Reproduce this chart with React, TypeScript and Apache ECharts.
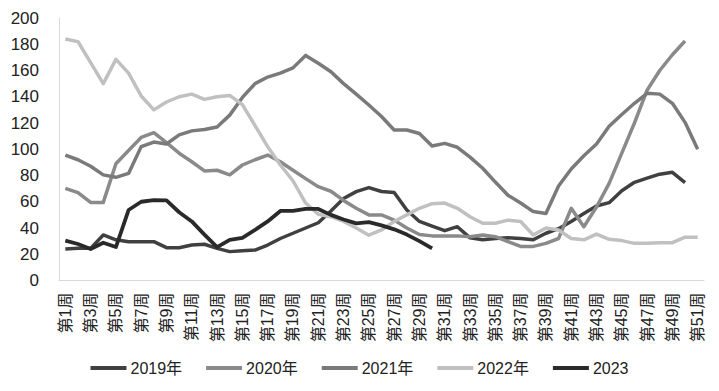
import React, { useEffect, useRef } from "react";
import * as echarts from "echarts";

const categories: string[] = Array.from({ length: 51 }, (_, i) => `第${i + 1}周`);

const yAxisMin = 0;
const yAxisMax = 200;
const yAxisInterval = 20;

const seriesNames = ["2019年", "2020年", "2021年", "2022年", "2023"];

const data2019: (number | null)[] = [
  24, 24.5, 24.5, 34.7, 31, 29.6, 29.6, 29.6, 25, 25, 27, 27.6, 24.5, 22, 22.7, 23.2, 27, 32, 36, 40,
  44, 53, 62.5, 67.7, 70.8, 67.8, 67, 53.7, 45, 41.5, 38, 41, 32.5, 31, 32, 32.5, 32, 31, 36, 39.5,
  45, 51, 56.8, 59.3, 68.4, 74.8, 78, 81, 82.4, 74.5, null,
];

const data2020: (number | null)[] = [
  70.2, 67, 59.5, 59.5, 89, 99, 109, 112.6, 105, 97, 90.5, 83.5, 84, 80.5, 88, 92, 95.6, 90.5, 84, 77.6,
  71.5, 68, 61, 55, 50, 50, 46, 40, 35, 34, 34, 34, 33.4, 34.7, 33.4, 29.6, 26, 26, 28.3, 32,
  55, 41, 56, 74, 97, 120, 145, 160, 172, 182.5, null,
];

const data2021: (number | null)[] = [
  95.6, 92, 87, 80.5, 78.6, 81.6, 102, 105.5, 104, 111, 114, 115, 117, 126, 139.5, 150, 155, 158, 162, 171.5,
  165.5, 159, 150, 142, 133.7, 125, 114.7, 114.7, 112, 102.5, 104.5, 101.5, 94, 85.5, 75, 65, 59, 52.5, 51, 72,
  85, 95, 104, 117.5, 126.5, 135, 142.6, 142, 135, 120.5, 100,
];

const data2022: (number | null)[] = [
  184, 182, 166, 150, 168.5, 158, 140.6, 130, 136, 140, 142, 138, 140, 141, 134, 118, 102, 88, 76, 59,
  50.5, 48.6, 45, 40, 34.5, 38.5, 45, 50, 55, 58.5, 59, 55, 48.6, 43.6, 43.6, 46, 45, 34.7, 40, 38.5,
  32, 31, 35.4, 31.4, 30.4, 28.3, 28.3, 28.8, 28.8, 33, 33,
];

const data2023: (number | null)[] = [
  30.4, 27.8, 24, 28.8, 25.5, 53.7, 60, 61.3, 61, 52, 45, 35, 25.5, 31, 32.5, 38.5, 45, 53, 53, 54.5,
  54.5, 50, 46.5, 43.5, 44.5, 42, 39, 35, 30, 24.5,
  null, null, null, null, null, null, null, null, null, null, null, null, null, null, null, null, null, null, null, null, null,
];

const seriesData = [data2019, data2020, data2021, data2022, data2023];
const seriesColors = ["#404040", "#8a8a8a", "#7a7a7a", "#c0c0c0", "#2a2a2a"];
const seriesWidths = [3.5, 3.5, 3.5, 3.5, 3.8];

const FONT = "'Liberation Sans', 'Noto Sans CJK SC', Arial, sans-serif";

export default function App() {
  const ref = useRef<HTMLDivElement | null>(null);

  useEffect(() => {
    if (!ref.current) return;
    const chart = echarts.init(ref.current, undefined, { renderer: "svg" });
    chart.setOption({
      animation: false,
      backgroundColor: "#ffffff",
      textStyle: { fontFamily: FONT },
      grid: { left: 59, right: 15, top: 18, bottom: 110.5, containLabel: false },
      legend: {
        bottom: 10,
        left: "center",
        icon: "rect",
        itemWidth: 36,
        itemHeight: 4,
        itemGap: 24,
        textStyle: { fontSize: 16, color: "#222", fontFamily: FONT, padding: [0, 0, 0, -1] },
        data: seriesNames,
      },
      xAxis: {
        type: "category",
        data: categories,
        boundaryGap: true,
        axisLine: { show: true, lineStyle: { color: "#d9d9d9", width: 1 } },
        axisTick: { show: false },
        axisLabel: {
          interval: 1,
          rotate: 90,
          margin: 12,
          fontSize: 16,
          color: "#222",
          fontFamily: FONT,
        },
        splitLine: { show: false },
      },
      yAxis: {
        type: "value",
        min: yAxisMin,
        max: yAxisMax,
        interval: yAxisInterval,
        axisLine: { show: true, lineStyle: { color: "#d9d9d9", width: 1 } },
        axisTick: { show: false },
        axisLabel: { fontSize: 17, color: "#222", margin: 20, fontFamily: FONT },
        splitLine: { show: false },
      },
      series: seriesNames.map((name, i) => ({
        name,
        type: "line",
        data: seriesData[i],
        symbol: "none",
        showSymbol: false,
        connectNulls: false,
        lineStyle: { color: seriesColors[i], width: seriesWidths[i], join: "round" },
        itemStyle: { color: seriesColors[i] },
        z: 2 + i,
      })),
    });
    return () => chart.dispose();
  }, []);

  return (
    <div
      ref={ref}
      style={{ position: "fixed", left: 0, top: 0, width: 719, height: 391, background: "#fff" }}
    />
  );
}
